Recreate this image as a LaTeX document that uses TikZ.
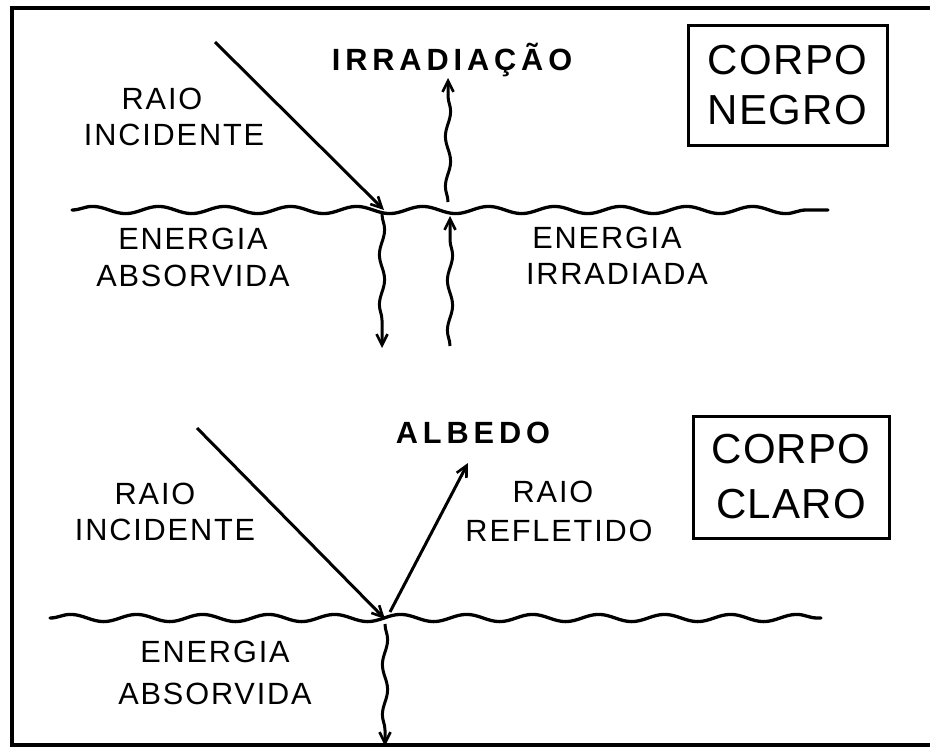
\documentclass[tikz,border=0pt]{standalone}
\usepackage{fontspec}
\setmainfont{Liberation Sans}
\newfontfamily\lblfont[LetterSpace=6]{Liberation Sans}
\newfontfamily\hdrfont[LetterSpace=16]{Liberation Sans}
\newfontfamily\tagfont[LetterSpace=3]{Liberation Sans}
\usetikzlibrary{arrows.meta,decorations.pathmorphing}
\begin{document}
\begin{tikzpicture}[x=1pt,y=-1pt,
  lbl/.style={font=\lblfont\fontsize{30.7}{36.5}\selectfont, align=center, inner sep=0pt},
  hdr/.style={font=\hdrfont\bfseries\fontsize{30.7}{36}\selectfont, inner sep=0pt, anchor=base},
  tagbox/.style={draw, line width=3pt, font=\tagfont\fontsize{42}{50}\selectfont, align=center, inner sep=0pt},
  tipstyle/.style={-{Straight Barb[length=11pt,width=11pt,line width=2.6pt]}},
  ray/.style={line width=3pt, tipstyle},
  wray/.style={line width=3pt, tipstyle, decorate,
    decoration={snake, amplitude=2.6pt, segment length=50pt, post length=11pt}},
  surface/.style={line width=3.3pt, line cap=round, decorate,
    decoration={snake, amplitude=3.6pt, segment length=66pt}},
  frame/.style={line width=3.6pt}]
\useasboundingbox (0,0) rectangle (930,750);

% frame
\coordinate (fTR) at (930,8);
\coordinate (fTL) at (12,8);
\coordinate (fBL) at (12,745);
\coordinate (fBR) at (930,745);
\draw[frame] (fTR) -- (fTL) -- (fBL) -- (fBR);

% ---------- upper: black body ----------
\node[tagbox, minimum width=199pt, minimum height=120pt] (negro) at (787.5,85) {CORPO\\NEGRO};
\node[hdr] (irrad) at (452,70) {IRRADIAÇÃO};
\node[lbl] (inc1) at (174,117) {RAIO\kern24pt\\INCIDENTE};
\node[lbl] (abs1) at (193,257.5) {ENERGIA\\ABSORVIDA};
\node[lbl] (emit1) at (617,256) {ENERGIA\kern20pt\\IRRADIADA};

\coordinate (s1l) at (72,210);
\coordinate (s1r) at (828,210);
\draw[surface] (s1l) -- (s1r);

\coordinate (i1a) at (215,42);
\coordinate (i1b) at (384,210);
\draw[ray] (i1a) -- (i1b);

\coordinate (a1a) at (382,214);
\coordinate (a1b) at (382,348);
\draw[wray] (a1a) -- (a1b);

\coordinate (u1a) at (450,346);
\coordinate (u1b) at (450,216);
\draw[wray] (u1a) -- (u1b);

\coordinate (r1a) at (448,202);
\coordinate (r1b) at (448,78);
\draw[wray] (r1a) -- (r1b);

% ---------- lower: light body ----------
\node[tagbox, minimum width=196pt, minimum height=122pt] (claro) at (791,477) {CORPO\\[5pt]CLARO};
\node[hdr] (albedo) at (473,443) {ALBEDO};
\node[lbl] (inc2) at (165,512) {RAIO\kern20pt\\INCIDENTE};
\node[lbl] (refl) at (559,511.5) {RAIO\kern12pt\\[2.5pt]REFLETIDO};
\node[lbl] (abs2) at (215,673) {ENERGIA\\[5pt]ABSORVIDA};

\coordinate (s2l) at (50,618);
\coordinate (s2r) at (821,618);
\draw[surface] (s2l) -- (s2r);

\coordinate (i2a) at (197,428);
\coordinate (i2b) at (385,619);
\draw[ray] (i2a) -- (i2b);

\coordinate (f2a) at (390,612);
\coordinate (f2b) at (468,463);
\draw[ray] (f2a) -- (f2b);

\coordinate (a2a) at (385,624);
\coordinate (a2b) at (385,746);
\draw[wray] (a2a) -- (a2b);
\end{tikzpicture}
\end{document}
